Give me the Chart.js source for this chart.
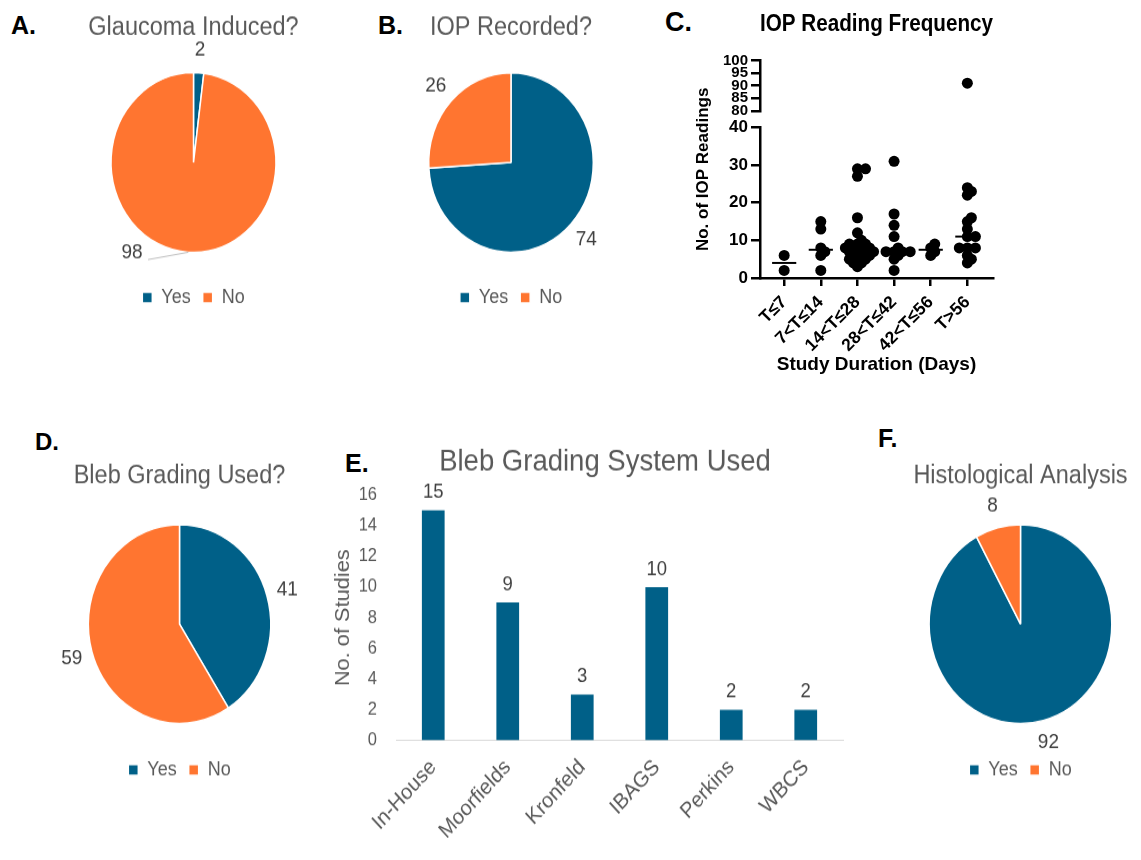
<!DOCTYPE html>
<html><head><meta charset="utf-8">
<script src="https://cdn.jsdelivr.net/npm/chart.js@4.4.1/dist/chart.umd.min.js"></script>
<style>
html,body{margin:0;padding:0;background:#fff;}
body{width:1141px;height:860px;position:relative;overflow:hidden;font-family:"Liberation Sans",Arial,sans-serif;}
.panel{position:absolute;}
.stretch{transform:scaleY(1.09);transform-origin:0 0;}
.lbl{position:absolute;font-weight:bold;color:#000;line-height:1;font-size:25px;}
canvas{display:block;}
</style></head><body>
<div class="lbl" style="left:11px;top:13px">A.</div>
<div class="lbl" style="left:378px;top:13px">B.</div>
<div class="lbl" style="left:665px;top:9px;font-size:27px">C.</div>
<div class="lbl" style="left:35px;top:430px;font-size:24px">D.</div>
<div class="lbl" style="left:345px;top:451px">E.</div>
<div class="lbl" style="left:878px;top:426px">F.</div>

<div class="panel stretch" style="left:0;top:0;"><canvas id="cA" width="387" height="292"></canvas></div>
<div class="panel stretch" style="left:380px;top:0;"><canvas id="cB" width="262" height="292"></canvas></div>
<div class="panel" style="left:660px;top:0;"><canvas id="cC" width="370" height="400"></canvas></div>
<div class="panel stretch" style="left:0;top:420px;"><canvas id="cD" width="359" height="340"></canvas></div>
<div class="panel stretch" style="left:330px;top:440px;"><canvas id="cE" width="550" height="385"></canvas></div>
<div class="panel stretch" style="left:900px;top:420px;"><canvas id="cF" width="241" height="340"></canvas></div>

<script>
// ---------------- DATA ----------------
const pieLabels = ['Yes', 'No'];
const glaucomaInduced = [2, 98];
const iopRecorded = [74, 26];
const blebGradingUsed = [41, 59];
const histologicalAnalysis = [92, 8];

const durationCats = ['T≤7', '7<T≤14', '14<T≤28', '28<T≤42', '42<T≤56', 'T>56'];
const readsT7 = [6, 2];
const readsT14 = [15, 13, 8, 7, 6, 2];
const readsT28 = [29, 29, 27, 16, 12, 10, 9, 9, 9, 8, 8, 8, 8, 7, 7, 7, 7, 6, 6, 6, 5, 5, 5, 4, 4, 3];
const readsT42 = [31, 17, 14, 11, 8, 7, 7, 7, 7, 6, 5, 2];
const readsT56 = [9, 8, 7, 6];
const readsT56plus = [91, 24, 23, 22, 16, 15, 13, 11, 11, 8, 8, 8, 6, 5, 4];
const lowerTicksMax = 40, upperTicksMin = 80, upperTicksMax = 100;

const gradingSystems = ['In-House', 'Moorfields', 'Kronfeld', 'IBAGS', 'Perkins', 'WBCS'];
const gradingStudies = [15, 9, 3, 10, 2, 2];

// ---------------- STYLE ----------------
const F = '"Liberation Sans", Arial, sans-serif';
const BLUE = '#006088';
const ORANGE = '#FF7530';
const GREY = '#595959';
const DARK = '#404040';
Chart.defaults.font.family = F;
Chart.defaults.animation = false;

// ---------------- PIE LABEL PLUGIN ----------------
const pieLabelPlugin = {
  id: 'pieLabels',
  afterDatasetsDraw(chart, args, opts) {
    if (!opts || !opts.enabled) return;
    const ctx = chart.ctx;
    const meta = chart.getDatasetMeta(0);
    const values = chart.data.datasets[0].data;
    ctx.save();
    ctx.font = opts.size + 'px ' + F;
    ctx.fillStyle = DARK;
    ctx.textAlign = 'center';
    ctx.textBaseline = 'middle';
    meta.data.forEach((arc, i) => {
      const p = arc.getProps(['x', 'y', 'startAngle', 'endAngle', 'outerRadius'], true);
      const mid = (p.startAngle + p.endAngle) / 2;
      const ov = (opts.overrides || {})[i];
      const ang = ov ? ov.angle : mid;
      const dist = p.outerRadius + (ov ? ov.offset : opts.offset);
      const lx = p.x + Math.cos(ang) * dist;
      const ly = p.y + Math.sin(ang) * dist;
      if (ov && ov.leader) {
        ctx.save();
        ctx.strokeStyle = '#BFBFBF';
        ctx.lineWidth = 1;
        ctx.beginPath();
        ctx.moveTo(p.x + Math.cos(mid) * p.outerRadius, p.y + Math.sin(mid) * p.outerRadius);
        ctx.lineTo(lx + ov.lx, ly + ov.ly);
        ctx.stroke();
        ctx.restore();
      }
      ctx.fillText(String(values[i]), lx, ly);
    });
    ctx.restore();
  }
};

function makePie(id, title, values, radius, titlePad, labelOpts) {
  return new Chart(document.getElementById(id), {
    type: 'pie',
    data: {
      labels: pieLabels,
      datasets: [{
        data: values,
        backgroundColor: [BLUE, ORANGE],
        borderColor: '#ffffff',
        borderWidth: 1.5,
        hoverOffset: 0,
        radius: radius
      }]
    },
    options: {
      responsive: false,
      animation: false,
      layout: { padding: 0 },
      plugins: {
        tooltip: { enabled: false },
        title: {
          display: true, text: title, color: GREY,
          font: { family: F, size: 23.5, weight: 'normal' },
          padding: titlePad
        },
        legend: {
          display: true, position: 'bottom',
          labels: { color: GREY, font: { family: F, size: 18 }, boxWidth: 10, boxHeight: 10, padding: 12 }
        },
        pieLabels: Object.assign({ enabled: true, size: 19, offset: 21 }, labelOpts || {})
      }
    },
    plugins: [pieLabelPlugin]
  });
}

makePie('cA', 'Glaucoma Induced?', glaucomaInduced, 82.5, { top: 11.6, bottom: 6.4 }, {
  overrides: { 1: { angle: 126.5 * Math.PI / 180, offset: 20.8, leader: true, lx: 16, ly: 6 } }
});
makePie('cB', 'IOP Recorded?', iopRecorded, 82.3, { top: 11.6, bottom: 6.4 });
makePie('cD', 'Bleb Grading Used?', blebGradingUsed, 91.2, { top: 37.9, bottom: 8.3 });
makePie('cF', 'Histological Analysis', histologicalAnalysis, 91.3, { top: 37.9, bottom: 8.3 });

// ---------------- PANEL C: scatter with broken axis ----------------
const groups = [readsT7, readsT14, readsT28, readsT42, readsT56, readsT56plus];
const XPX = 36.6, YPX_LOW = 3.76, YPX_HIGH = 2.5, MIN_D = 4.5, STEP = 0.11;
function swarm(values, idx) {
  const placed = [];
  values.slice().sort((a, b) => a - b).forEach(v => {
    const yp = v > lowerTicksMax ? 1000 + (v - upperTicksMin) * YPX_HIGH : v * YPX_LOW;
    let off = 0;
    for (let k = 0; k < 15; k++) {
      const o = k === 0 ? 0 : (k % 2 ? 1 : -1) * Math.ceil(k / 2) * STEP;
      off = o;
      if (placed.every(p => Math.hypot((p.o - o) * XPX, p.yp - yp) >= MIN_D)) break;
    }
    placed.push({ o: off, yp: yp, v: v });
  });
  return placed.map(p => ({ x: idx + p.o, y: p.v }));
}
function median(arr) {
  const s = arr.slice().sort((a, b) => a - b);
  const m = Math.floor(s.length / 2);
  return s.length % 2 ? s[m] : (s[m - 1] + s[m]) / 2;
}
const allPts = groups.flatMap((g, i) => swarm(g, i));
const lowPts = allPts.filter(p => p.y <= lowerTicksMax);
const highPts = allPts.filter(p => p.y > lowerTicksMax);
const medianSets = groups.map((g, i) => ({
  type: 'line',
  data: [{ x: i - 0.33, y: median(g) }, { x: i + 0.33, y: median(g) }],
  borderColor: '#000', borderWidth: 2, pointRadius: 0, showLine: true,
  xAxisID: 'x', yAxisID: 'yLow', clip: false
}));

new Chart(document.getElementById('cC'), {
  type: 'scatter',
  data: {
    datasets: [
      { data: lowPts, xAxisID: 'x', yAxisID: 'yLow', pointRadius: 5.5, backgroundColor: '#000', borderWidth: 0, clip: false },
      { data: highPts, xAxisID: 'x', yAxisID: 'yHigh', pointRadius: 5.5, backgroundColor: '#000', borderWidth: 0, clip: false }
    ].concat(medianSets)
  },
  options: {
    responsive: false,
    animation: false,
    layout: { padding: { left: 0, right: 37, top: 0, bottom: 0 } },
    plugins: {
      legend: { display: false },
      tooltip: { enabled: false },
      title: {
        display: true, text: 'IOP Reading Frequency', fullSize: false, color: '#000',
        font: { family: F, size: 23.5, weight: 'bold' }, padding: { top: 10.9, bottom: 21.6 }
      }
    },
    scales: {
      x: {
        type: 'linear', position: 'bottom', min: -0.66, max: 5.7,
        afterBuildTicks: s => { s.ticks = durationCats.map((c, i) => ({ value: i })); },
        afterFit: s => { s.height = 122; },
        ticks: {
          callback: v => durationCats[v], autoSkip: false, maxRotation: 45, minRotation: 45,
          color: '#000', font: { family: F, size: 17.5, weight: 'bold' }, padding: 6
        },
        grid: { display: true, drawOnChartArea: false, drawTicks: true, tickLength: 8, color: '#000', lineWidth: 2.5 },
        border: { display: true, color: '#000', width: 2.5 },
        title: { display: true, text: 'Study Duration (Days)', color: '#000', font: { family: F, size: 19, weight: 'bold' }, padding: { top: 0, bottom: 23.6 } }
      },
      yLow: {
        type: 'linear', position: 'left', stack: 'iop', stackWeight: 150.4, min: 0, max: lowerTicksMax,
        ticks: { stepSize: 10, color: '#000', font: { family: F, size: 17, weight: 'bold' }, padding: 3 },
        grid: { display: true, drawOnChartArea: false, drawTicks: true, tickLength: 9, color: '#000', lineWidth: 2.5 },
        border: { display: true, color: '#000', width: 2.5 },
        afterFit: s => { s.width = 45; }
      },
      yGap: {
        type: 'linear', position: 'left', stack: 'iop', stackWeight: 16.6,
        ticks: { display: false }, grid: { display: false }, border: { display: false },
        afterFit: s => { s.width = 45; }
      },
      yHigh: {
        type: 'linear', position: 'left', stack: 'iop', stackWeight: 50, min: upperTicksMin, max: upperTicksMax,
        ticks: { stepSize: 5, autoSkip: false, color: '#000', font: { family: F, size: 15, weight: 'bold' }, padding: 3 },
        grid: { display: true, drawOnChartArea: false, drawTicks: true, tickLength: 9, color: '#000', lineWidth: 2.5 },
        border: { display: true, color: '#000', width: 2.5 },
        afterFit: s => { s.width = 45; }
      },
      yTitle: {
        type: 'linear', position: 'left',
        ticks: { display: false }, grid: { display: false }, border: { display: false },
        title: { display: true, text: 'No. of IOP Readings', color: '#000', font: { family: F, size: 17, weight: 'bold' }, padding: { top: 32.8, bottom: 0 } },
        afterFit: s => { s.width = 55; }
      }
    }
  }
});

// ---------------- PANEL E: bar chart ----------------
const barLabelPlugin = {
  id: 'barLabels',
  afterDatasetsDraw(chart) {
    const ctx = chart.ctx;
    const meta = chart.getDatasetMeta(0);
    const vals = chart.data.datasets[0].data;
    ctx.save();
    ctx.font = '18.5px ' + F;
    ctx.fillStyle = DARK;
    ctx.textAlign = 'center';
    ctx.textBaseline = 'middle';
    meta.data.forEach((bar, i) => { ctx.fillText(String(vals[i]), bar.x, bar.y - 16.5); });
    ctx.restore();
  }
};
new Chart(document.getElementById('cE'), {
  type: 'bar',
  data: {
    labels: gradingSystems,
    datasets: [{ data: gradingStudies, backgroundColor: BLUE, borderWidth: 0, barPercentage: 0.305, categoryPercentage: 1 }]
  },
  options: {
    responsive: false,
    animation: false,
    layout: { padding: 0 },
    plugins: {
      legend: { display: false },
      tooltip: { enabled: false },
      title: { display: true, text: 'Bleb Grading System Used', color: GREY, font: { family: F, size: 27.5, weight: 'normal' }, padding: { top: 3.7, bottom: 13.8 } }
    },
    scales: {
      x: {
        grid: { display: false, drawTicks: false },
        border: { display: true, color: '#D9D9D9', width: 1 },
        ticks: { color: GREY, font: { family: F, size: 20 }, maxRotation: 45, minRotation: 45, padding: 13 },
        afterFit: s => { s.height = 109.4; }
      },
      y: {
        min: 0, max: 16,
        ticks: { stepSize: 2, color: GREY, font: { family: F, size: 16.5 }, padding: 19 },
        grid: { display: false, drawTicks: false },
        border: { display: false },
        title: { display: true, text: 'No. of Studies', color: GREY, font: { family: F, size: 20 }, padding: { top: 1, bottom: 0 } },
        afterFit: s => { s.width = 66; }
      },
      yR: {
        type: 'linear', position: 'right',
        ticks: { display: false }, grid: { display: false }, border: { display: false },
        afterFit: s => { s.width = 37; }
      }
    }
  },
  plugins: [barLabelPlugin]
});
</script>
</body></html>
